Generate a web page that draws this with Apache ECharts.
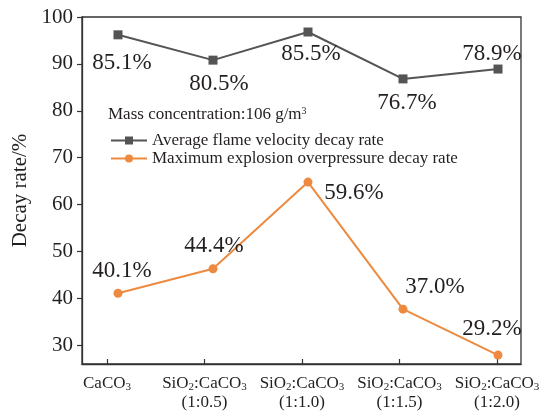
<!DOCTYPE html>
<html><head><meta charset="utf-8">
<script src="https://cdn.jsdelivr.net/npm/echarts@6/dist/echarts.min.js"></script>
<style>html,body{margin:0;padding:0;background:#fff}#c{width:544px;height:414px}</style>
</head><body><div id="c"></div>
<script>
// ---- data ----
const categories = ['CaCO3', 'SiO2:CaCO3 (1:0.5)', 'SiO2:CaCO3 (1:1.0)', 'SiO2:CaCO3 (1:1.5)', 'SiO2:CaCO3 (1:2.0)'];
const flameName = 'Average flame velocity decay rate';
const flameValues = [96.2, 90.8, 96.8, 86.8, 88.9];
const flameLabels = ['85.1%', '80.5%', '85.5%', '76.7%', '78.9%'];
const pressName = 'Maximum explosion overpressure decay rate';
const pressValues = [41.1, 46.3, 64.8, 37.7, 27.9];
const pressLabels = ['40.1%', '44.4%', '59.6%', '37.0%', '29.2%'];
const yTicks = [30, 40, 50, 60, 70, 80, 90, 100];
const noteText = 'Mass concentration:106 g/m3';

// ---- layout / style ----
const flameLabelOffsets = [[4, 28], [6, 24], [3, 22], [4, 24], [-6, -15]];
const pressLabelOffsets = [[4, -22], [1, -23], [46, 11], [32, -22], [-6, -26]];
const FONT = 'Liberation Serif, Times New Roman, serif';
const TXT = '#231f20';
const GRAY = '#545454';
const ORANGE = '#ED8A3F';

const fmtCat = s => s.replace(/([A-Za-z])(\d)/g, '$1{s|$2}').replace(' (', '\n(');
const idx = categories.map((_, i) => i);

function mkData(vals, labels, offs) {
  return vals.map((v, i) => ({
    value: [i, v],
    label: { formatter: labels[i], offset: offs[i] }
  }));
}

const chart = echarts.init(document.getElementById('c'));
chart.setOption({
  animation: false,
  backgroundColor: '#fff',
  textStyle: { fontFamily: FONT, color: TXT },
  grid: { left: 82, right: 23, top: 17, bottom: 50, show: true, borderColor: '#333', borderWidth: 1.3, containLabel: false },
  xAxis: [{
    type: 'value', min: -0.2564, max: 4.246,
    axisLine: { show: true, onZero: false, lineStyle: { color: '#333', width: 1.3 } },
    axisTick: { show: true, inside: true, length: 5, customValues: idx, lineStyle: { color: '#333', width: 1.2 } },
    axisLabel: {
      customValues: idx, margin: 10, fontFamily: FONT, fontSize: 17, color: TXT, lineHeight: 19,
      formatter: v => fmtCat(categories[Math.round(v)]),
      rich: { s: { fontSize: 11, lineHeight: 11, verticalAlign: 'bottom', fontFamily: FONT, color: TXT } }
    },
    splitLine: { show: false }
  }, {
    type: 'value', min: -0.3789, max: 4.2421, show: false, position: 'bottom'
  }],
  yAxis: {
    type: 'value', min: 26, max: 100,
    name: 'Decay rate/%', nameLocation: 'middle', nameGap: 50, nameRotate: 90,
    nameTextStyle: { fontFamily: FONT, fontSize: 21, color: TXT },
    axisLine: { show: true, onZero: false, lineStyle: { color: '#333', width: 1.3 } },
    axisTick: { show: true, inside: false, length: 5, customValues: yTicks, lineStyle: { color: '#333', width: 1.2 } },
    axisLabel: { customValues: yTicks, margin: 9, fontFamily: FONT, fontSize: 21, color: TXT },
    splitLine: { show: false }
  },
  legend: {
    orient: 'vertical', left: 105, top: 127, itemWidth: 36, itemHeight: 10, itemGap: 1,
    textStyle: { fontFamily: FONT, fontSize: 17, color: TXT },
    data: [flameName, pressName]
  },
  graphic: [{
    type: 'text', left: 108, top: 106,
    style: {
      text: noteText.replace(/m3$/, 'm{sup|3}'),
      font: '17px ' + FONT, fill: TXT,
      rich: { sup: { fontSize: 10, lineHeight: 10, verticalAlign: 'top', fontFamily: FONT, fill: TXT } }
    }
  }],
  series: [{
    name: flameName, type: 'line', xAxisIndex: 1,
    symbol: 'rect', symbolSize: 9,
    lineStyle: { color: GRAY, width: 2 }, itemStyle: { color: GRAY },
    label: { show: true, position: 'inside', fontFamily: FONT, fontSize: 23, color: TXT },
    data: mkData(flameValues, flameLabels, flameLabelOffsets)
  }, {
    name: pressName, type: 'line', xAxisIndex: 1,
    symbol: 'circle', symbolSize: 9,
    lineStyle: { color: ORANGE, width: 2 }, itemStyle: { color: ORANGE },
    label: { show: true, position: 'inside', fontFamily: FONT, fontSize: 23, color: TXT },
    data: mkData(pressValues, pressLabels, pressLabelOffsets)
  }]
});
</script></body></html>
